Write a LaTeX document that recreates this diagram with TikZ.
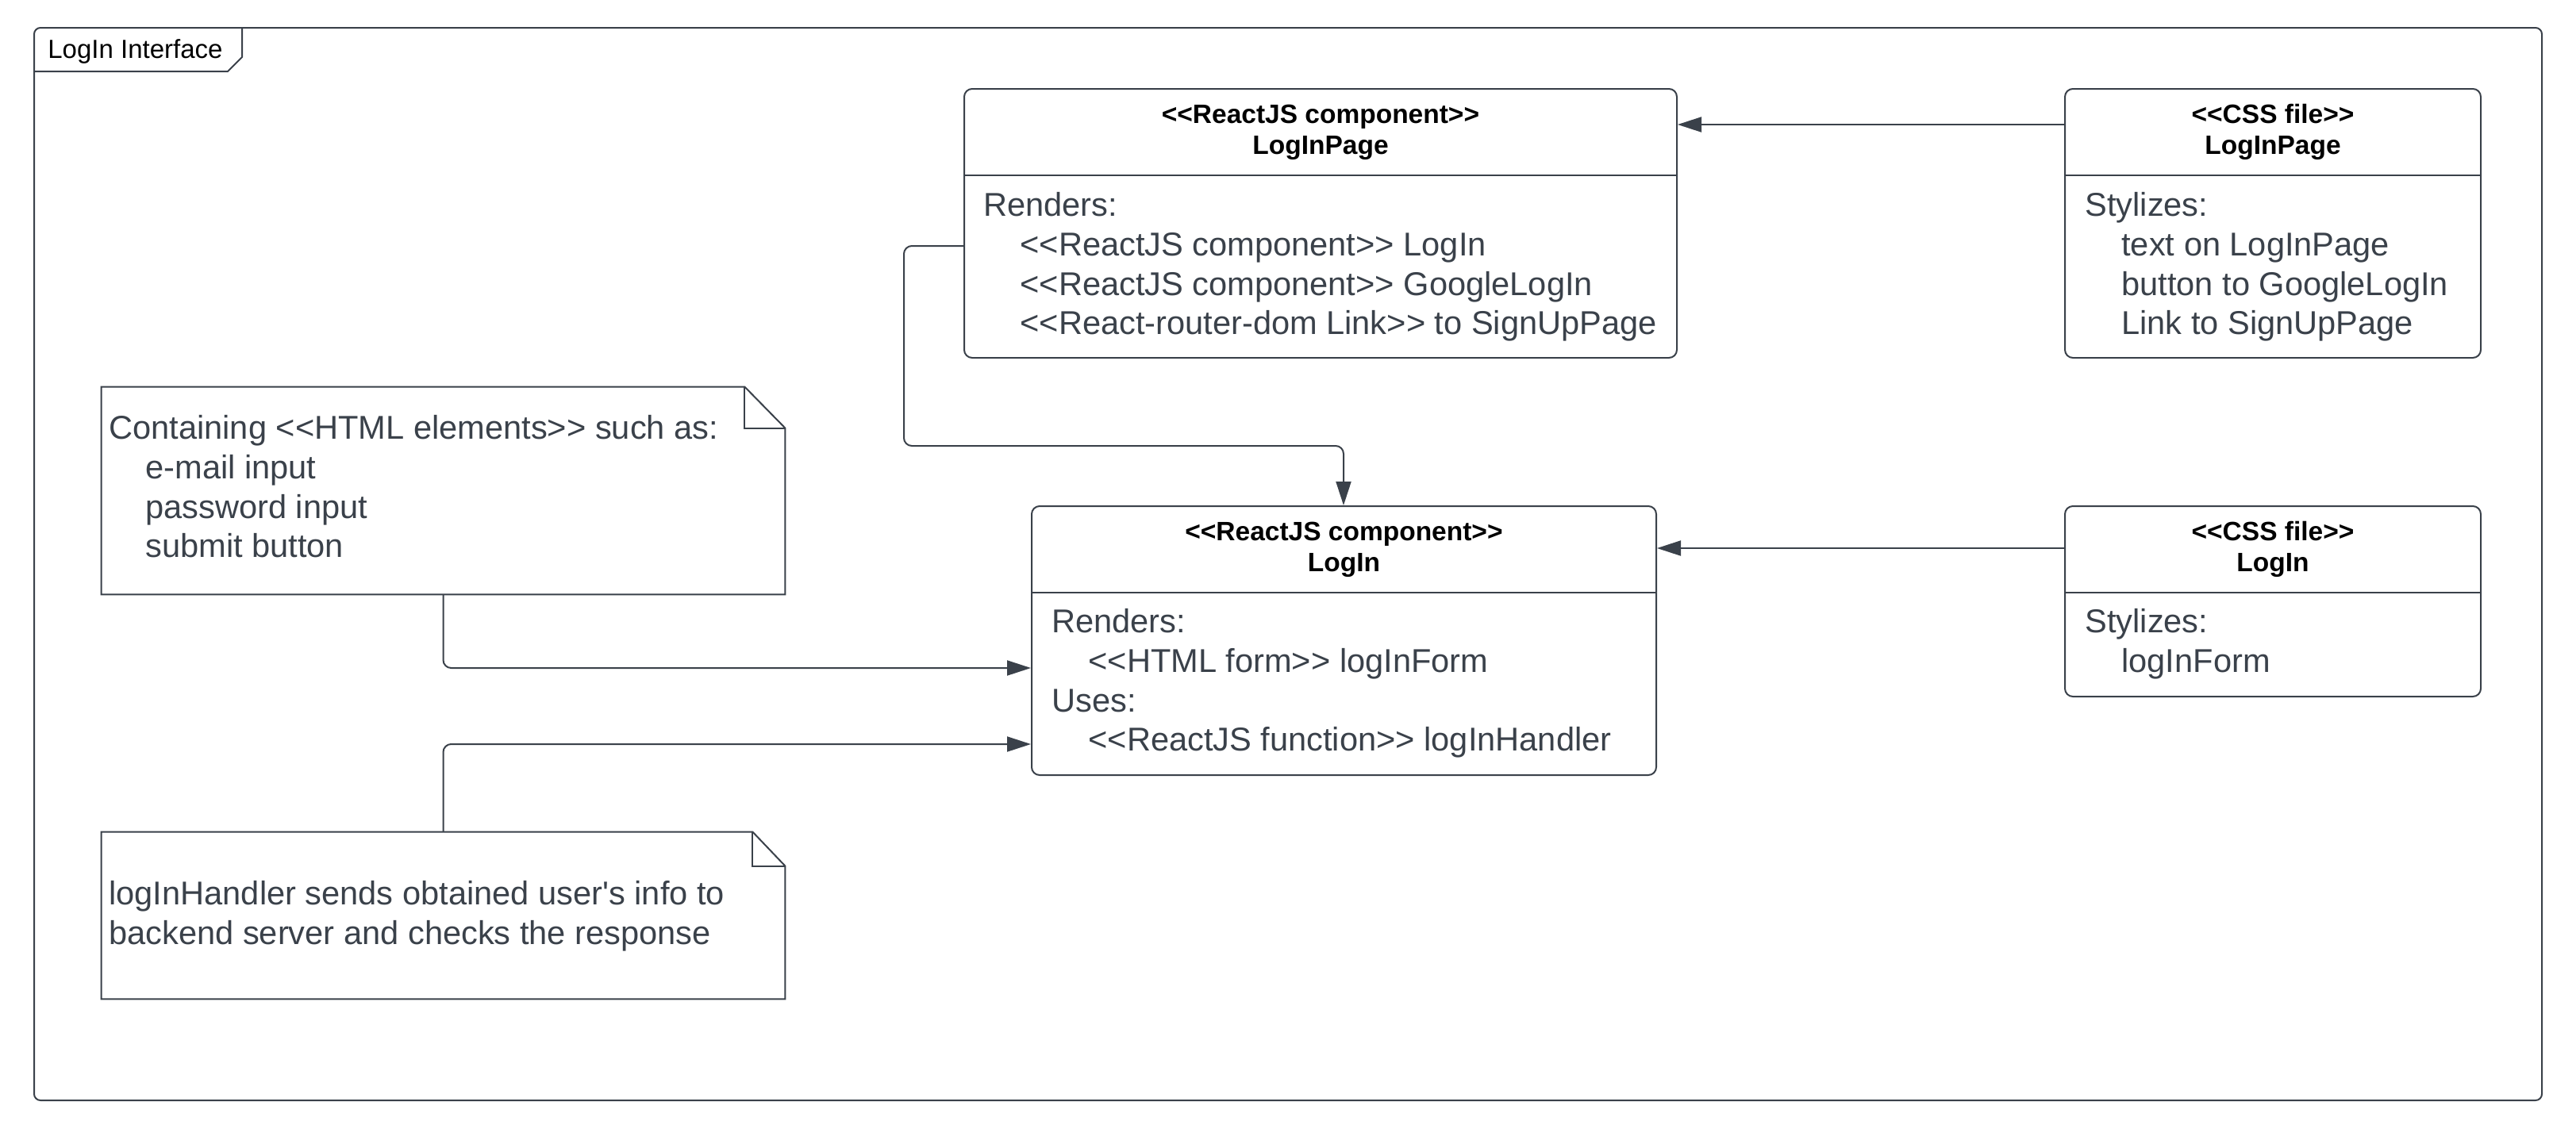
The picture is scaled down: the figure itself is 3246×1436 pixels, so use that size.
\documentclass[tikz,border=0pt]{standalone}
\usepackage{fontspec}
\setmainfont{Liberation Sans}[Ligatures=TeXOff]
\usetikzlibrary{arrows.meta,fit}
\definecolor{lucid}{HTML}{3A414A}
\begin{document}
\begin{tikzpicture}[x=0.5pt,y=-0.5pt,
  box/.style={draw=lucid,line width=1pt,fill=white,rounded corners=5pt,inner sep=0pt},
  area/.style={inner sep=0pt},
  ttl/.style={font=\fontsize{16.75}{19.4}\selectfont\bfseries,align=center,text=black,inner sep=0pt},
  body/.style={font=\fontsize{20.8}{24.9}\selectfont,align=left,text=lucid,inner sep=0pt,anchor=north west},
  conn/.style={draw=lucid,line width=1pt,rounded corners=5pt,-{Triangle[length=15pt,width=9.5pt]}},
  divline/.style={draw=lucid,line width=1pt}]
\useasboundingbox (0,0) rectangle (3246,1436);

% frame
\node[draw=lucid,line width=1pt,rounded corners=4pt,inner sep=0pt,fit={(43,35) (3203,1387)}] (frame) {};
\draw[divline] ([yshift=-28pt]frame.north west) -- ++(245,0) -- ++(18,-18) -- ++(0,-38);
\node[anchor=base west,font=\fontsize{16.5}{20}\selectfont,inner sep=0pt] (frameLabel) at (60,73) {LogIn Interface};

% ReactJS LogInPage
\node[box,fit={(1215,112) (2113,451)}] (pageR) {};
\draw[divline] (pageR.west |- 0,221) -- (pageR.east |- 0,221);
\node[ttl] (pageRt) at (1664,166.5) {<<ReactJS component>>\\LogInPage};
\node[body] (pageRb) at (1239,242) {Renders:\\
\hspace*{23pt}<<ReactJS component>> LogIn\\
\hspace*{23pt}<<ReactJS component>> GoogleLogIn\\
\hspace*{23pt}<<React-router-dom Link>> to SignUpPage};

% CSS LogInPage
\node[box,fit={(2602,112) (3126,451)}] (pageC) {};
\draw[divline] (pageC.west |- 0,221) -- (pageC.east |- 0,221);
\node[ttl] (pageCt) at (2864,166.5) {<<CSS file>>\\LogInPage};
\node[body] (pageCb) at (2627,242) {Stylizes:\\
\hspace*{23pt}text on LogInPage\\
\hspace*{23pt}button to GoogleLogIn\\
\hspace*{23pt}Link to SignUpPage};

% ReactJS LogIn
\node[box,fit={(1300,638) (2087,977)}] (loginR) {};
\draw[divline] (loginR.west |- 0,747) -- (loginR.east |- 0,747);
\node[ttl] (loginRt) at (1693.5,692.5) {<<ReactJS component>>\\LogIn};
\node[body] (loginRb) at (1325,767) {Renders:\\
\hspace*{23pt}<<HTML form>> logInForm\\
Uses:\\
\hspace*{23pt}<<ReactJS function>> logInHandler};

% CSS LogIn
\node[box,fit={(2602,638) (3126,878)}] (loginC) {};
\draw[divline] (loginC.west |- 0,747) -- (loginC.east |- 0,747);
\node[ttl] (loginCt) at (2864,692.5) {<<CSS file>>\\LogIn};
\node[body] (loginCb) at (2627,767) {Stylizes:\\
\hspace*{23pt}logInForm};

% note 1
\node[area,fit={(128,488) (989,749)}] (note1) {};
\draw[divline,fill=white] (note1.south west) -- (note1.north west) -- ([xshift=-25.5pt]note1.north east)
  -- ([yshift=-26pt]note1.north east) -- (note1.south east) -- cycle;
\draw[divline] ([xshift=-25.5pt]note1.north east) |- ([yshift=-26pt]note1.north east);
\node[body] (note1b) at (137,523) {Containing <<HTML elements>> such as:\\
\hspace*{23pt}e-mail input\\
\hspace*{23pt}password input\\
\hspace*{23pt}submit button};

% note 2
\node[area,fit={(128,1049) (989,1259)}] (note2) {};
\draw[divline,fill=white] (note2.south west) -- (note2.north west) -- ([xshift=-20.5pt]note2.north east)
  -- ([yshift=-21.5pt]note2.north east) -- (note2.south east) -- cycle;
\draw[divline] ([xshift=-20.5pt]note2.north east) |- ([yshift=-21.5pt]note2.north east);
\node[body] (note2b) at (137,1110) {logInHandler sends obtained user's info to\\
backend server and checks the response};

% connectors
\draw[conn] (pageC.west |- 0,157) -- (pageR.east |- 0,157);
\draw[conn] (loginC.west |- 0,691) -- (loginR.east |- 0,691);
\draw[conn] (pageR.west |- 0,310) -- (1139,310) -- (1139,562) -- (1693,562) -- (loginR.north -| 1693,0);
\draw[conn] (note1.south) -- (note1.south |- 0,842) -- (loginR.west |- 0,842);
\draw[conn] (note2.north) -- (note2.north |- 0,938) -- (loginR.west |- 0,938);
\end{tikzpicture}
\end{document}
